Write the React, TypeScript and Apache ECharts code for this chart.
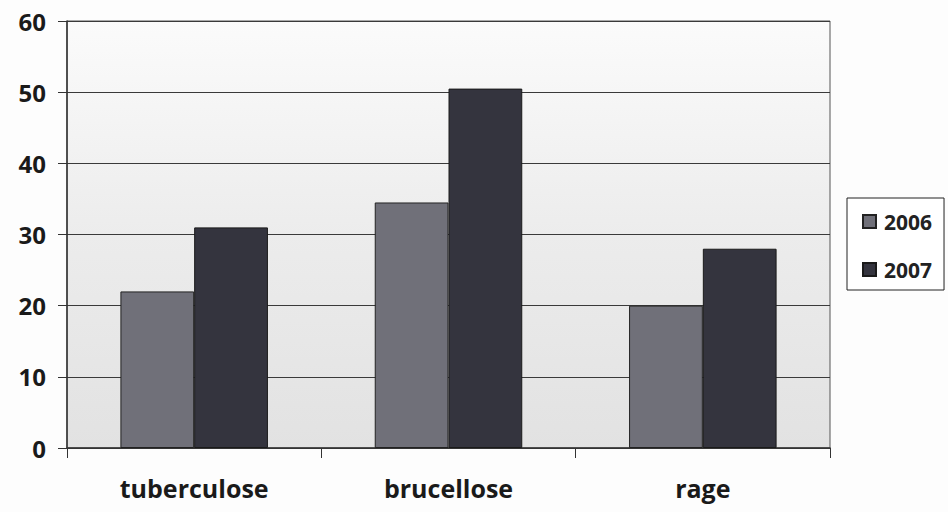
import React, { useEffect, useRef } from "react";
import * as echarts from "echarts";

const categories = ["tuberculose", "brucellose", "rage"];
const series2006 = [22, 34.5, 20];
const series2007 = [31, 50.5, 28];
const seriesNames = ["2006", "2007"];

export default function App() {
  const ref = useRef<HTMLDivElement>(null);
  useEffect(() => {
    const chart = echarts.init(ref.current!, null, { renderer: "svg" });
    const font = "'Open Sans', Lato, sans-serif";
    chart.setOption({
      animation: false,
      backgroundColor: "#fdfdfd",
      grid: {
        left: 67,
        right: 118,
        top: 21,
        bottom: 64,
        show: true,
        backgroundColor: {
          type: "linear",
          x: 0, y: 0, x2: 0, y2: 1,
          colorStops: [
            { offset: 0, color: "#fbfbfb" },
            { offset: 0.5, color: "#ececec" },
            { offset: 1, color: "#e2e2e2" },
          ],
        },
        borderColor: "#555",
        borderWidth: 1,
      },
      legend: {
        orient: "vertical",
        left: 847,
        top: 198,
        padding: [13, 12, 10, 15],
        itemGap: 27,
        itemWidth: 13,
        itemHeight: 13,
        borderColor: "#222",
        borderWidth: 1,
        backgroundColor: "#fff",
        textStyle: { fontFamily: font, fontWeight: "bold", fontSize: 21, color: "#222", padding: [0, 0, 0, 3] },
        data: seriesNames.map((n) => ({ name: n, icon: "rect" })),
      },
      xAxis: {
        type: "category",
        data: categories,
        axisLine: { lineStyle: { color: "#333", width: 1.5 } },
        axisTick: { show: true, length: 10, lineStyle: { color: "#333" } },
        axisLabel: { fontFamily: font, fontWeight: "bold", fontSize: 25, color: "#1a1a1a", margin: 27 },
      },
      yAxis: {
        type: "value",
        min: 0,
        max: 60,
        interval: 10,
        axisLine: { show: true, lineStyle: { color: "#333", width: 1.5 } },
        axisTick: { show: true, length: 9, lineStyle: { color: "#333" } },
        splitLine: { lineStyle: { color: "#3a3a3a", width: 1.2 } },
        axisLabel: { fontFamily: font, fontWeight: "bold", fontSize: 24, color: "#1a1a1a", margin: 21 },
      },
      series: [
        {
          name: seriesNames[0],
          type: "bar",
          data: series2006,
          barGap: "0%",
          barCategoryGap: "42%",
          itemStyle: { color: "#707079", borderColor: "#222", borderWidth: 1 },
        },
        {
          name: seriesNames[1],
          type: "bar",
          data: series2007,
          itemStyle: { color: "#34343e", borderColor: "#1a1a1a", borderWidth: 1 },
        },
      ],
    });
    return () => chart.dispose();
  }, []);
  return <div ref={ref} style={{ width: 948, height: 512, position: "absolute", left: 0, top: 0 }} />;
}
